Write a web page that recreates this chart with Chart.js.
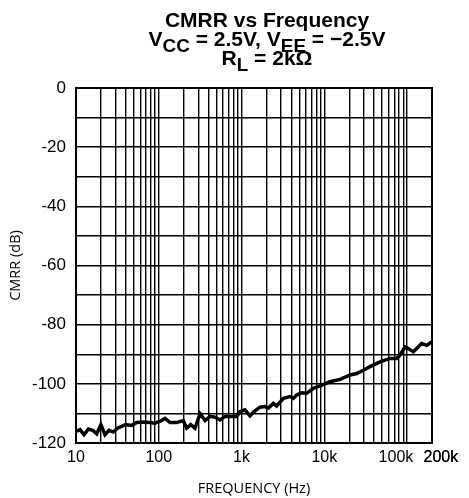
<!DOCTYPE html>
<html>
<head>
<meta charset="utf-8">
<script src="https://cdn.jsdelivr.net/npm/chart.js@4/dist/chart.umd.min.js"></script>
<style>
  html, body { margin: 0; padding: 0; background: #fff; }
  #wrap { position: relative; width: 469px; height: 498px; }
  #titulo {
    position: absolute; left: 67px; top: 10px; width: 400px;
    text-align: center; font: bold 21px "Liberation Sans", Arial, sans-serif;
    line-height: 19px; color: #000; white-space: nowrap;
  }
  #titulo sub { font-size: 90%; vertical-align: -0.3em; line-height: 0; }
</style>
</head>
<body>
<div id="wrap">
  <canvas id="grafico" width="469" height="498"></canvas>
  <div id="titulo">CMRR vs Frequency<br>V<sub>CC</sub> = 2.5V, V<sub>EE</sub> = −2.5V<br>R<sub>L</sub> = 2kΩ</div>
</div>
<script>
// dados (frequência em Hz, CMRR em dB)
const freqHz = [10, 11.2, 12.5, 14.1, 15.9, 17.8, 20, 22.4, 25, 28.3, 31.6, 35.6, 39.8, 47, 54, 68, 90,
  103, 119, 137, 164, 198, 217, 243, 274, 315, 362, 416, 478, 550, 631, 726, 873, 958, 1100, 1265,
  1415, 1671, 1922, 2109, 2423, 2657, 3199, 3852, 4224, 4634, 5330, 6124, 7379, 8872, 11720, 15490,
  20460, 24600, 29630, 35650, 47100, 62230, 74820, 82220, 94400, 103500, 119100, 136800, 150000,
  172600, 198200]
const cmrrDb = [-116.1, -115.5, -117.2, -115.3, -115.7, -116.9, -113.8, -117.2, -115.7, -116.3, -115.0,
  -114.4, -113.8, -114.1, -113.1, -112.9, -113.3, -112.7, -111.7, -113.1, -113.1, -112.4, -115.0,
  -113.8, -115.0, -110.1, -112.4, -111.0, -111.3, -112.2, -111.0, -111.0, -111.0, -109.4, -108.8,
  -110.8, -109.4, -107.9, -107.7, -108.2, -106.6, -107.5, -104.9, -104.3, -104.9, -103.8, -103.0,
  -103.2, -101.5, -100.7, -99.3, -98.5, -97.0, -96.5, -95.4, -94.2, -92.6, -91.4, -91.4, -90.3,
  -87.5, -88.1, -89.2, -87.5, -86.4, -87.0, -85.8]

// rótulos do eixo x
const labelValues = [10, 100, 1000, 10000, 100000, 200000]
const labelText = ['10', '100', '1k', '10k', '100k', '200k']

// linhas de grade verticais: 1..9 por década
const decades = [10, 100, 1000, 10000, 100000]
const multipliers = [1, 2, 3, 4, 5, 6, 7, 8, 9]
const gridFreqs = []
decades.forEach(d => multipliers.forEach(m => { if (d * m <= 200000) gridFreqs.push(d * m) }))
gridFreqs.push(200000)

const fonteX = { family: '"Liberation Sans", Arial, sans-serif', size: 16 }
const fonteY = { family: '"Liberation Sans", Arial, sans-serif', size: 17 }
const fonteTitulo = { family: '"Open Sans", sans-serif', size: 14.5 }

new Chart(document.getElementById('grafico').getContext('2d'), {
  type: 'line',
  data: {
    datasets: [{
      data: freqHz.map((f, i) => ({ x: f, y: cmrrDb[i] })),
      borderColor: '#000',
      borderWidth: 3.5,
      pointRadius: 0,
      tension: 0,
    }],
  },
  options: {
    responsive: false,
    animation: false,
    layout: { padding: { top: 88, right: 37, left: 0, bottom: 0 } },
    plugins: { legend: { display: false }, tooltip: { enabled: false } },
    scales: {
      x: {
        type: 'logarithmic',
        min: 10,
        max: 200000,
        afterBuildTicks: axis => { axis.ticks = gridFreqs.map(v => ({ value: v })) },
        afterFit: axis => { axis.height = 55 },
        grid: { color: '#000', lineWidth: 1.4, drawTicks: false },
        border: { color: '#000', width: 2 },
        ticks: {
          autoSkip: false,
          maxRotation: 0,
          padding: 5,
          color: '#000',
          font: fonteX,
          callback: valor => {
            const i = labelValues.indexOf(valor)
            if (i < 0) return ''
            // afasta um pouco os dois últimos rótulos, como no original
            if (i === labelValues.length - 2) return labelText[i] + '     '
            if (i === labelValues.length - 1) return '    ' + labelText[i]
            return labelText[i]
          },
        },
        title: { display: true, text: 'FREQUENCY (Hz)', color: '#000', font: fonteTitulo, padding: 0 },
      },
      y: {
        min: -120,
        max: 0,
        afterFit: axis => { axis.width = 76 },
        grid: { color: '#000', lineWidth: 1.4, drawTicks: false },
        border: { color: '#000', width: 2 },
        ticks: {
          stepSize: 10,
          padding: 10,
          color: '#000',
          font: fonteY,
          callback: valor => (valor % 20 === 0 ? String(valor) : ''),
        },
        title: { display: true, text: 'CMRR (dB)', color: '#000', font: fonteTitulo, padding: { top: 7 } },
      },
    },
  },
  plugins: [{
    // moldura preta em volta da área do gráfico
    id: 'moldura',
    afterDraw: chart => {
      const { ctx, chartArea: a } = chart
      ctx.save()
      ctx.strokeStyle = '#000'
      ctx.lineWidth = 2
      ctx.strokeRect(a.left, a.top, a.right - a.left, a.bottom - a.top)
      ctx.restore()
    },
  }],
})
</script>
</body>
</html>
